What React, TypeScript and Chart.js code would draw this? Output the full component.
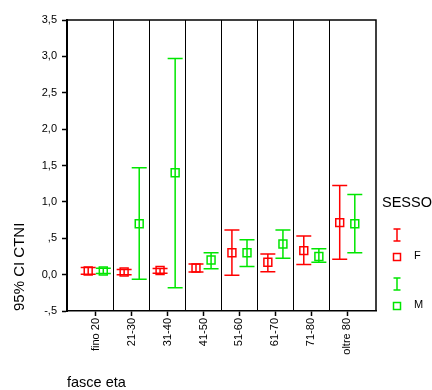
import React, { useEffect, useRef } from "react";
import { Chart, registerables } from "chart.js";

Chart.register(...registerables);

const categories = ["fino 20", "21-30", "31-40", "41-50", "51-60", "61-70", "71-80", "oltre 80"];
const fMean = [0.05, 0.037, 0.056, 0.09, 0.3, 0.17, 0.33, 0.715];
const fLow = [0.005, 0.0, 0.02, 0.037, -0.01, 0.04, 0.14, 0.21];
const fHigh = [0.098, 0.07, 0.084, 0.147, 0.615, 0.285, 0.53, 1.225];
const mMean = [0.05, 0.7, 1.4, 0.2, 0.3, 0.42, 0.25, 0.7];
const mLow = [0.015, -0.063, -0.18, 0.08, 0.11, 0.225, 0.17, 0.3];
const mHigh = [0.088, 1.47, 2.97, 0.3, 0.48, 0.615, 0.355, 1.1];
const yTickValues = [-0.5, 0, 0.5, 1, 1.5, 2, 2.5, 3, 3.5];
const yTickLabels = ["-,5", "0,0", ",5", "1,0", "1,5", "2,0", "2,5", "3,0", "3,5"];
const seriesNames = ["F", "M"];
const seriesColors = ["#ff0000", "#00e600"];
const seriesOffsets = [-0.21, 0.21];

const FONT = "'Liberation Sans', Arial, sans-serif";

const errorBarPlugin = {
  id: "errorBars",
  afterDatasetsDraw(chart: any) {
    const { ctx, scales } = chart;
    const xs = scales.x;
    const ys = scales.y;
    const lows = [fLow, mLow];
    const highs = [fHigh, mHigh];
    ctx.save();
    ctx.lineWidth = 1.5;
    for (let s = 0; s < 2; s++) {
      ctx.strokeStyle = seriesColors[s];
      for (let i = 0; i < categories.length; i++) {
        const x = xs.getPixelForValue(i + seriesOffsets[s]);
        const yl = ys.getPixelForValue(lows[s][i]);
        const yh = ys.getPixelForValue(highs[s][i]);
        const hw = 7.5;
        ctx.beginPath();
        ctx.moveTo(x, yl);
        ctx.lineTo(x, yh);
        ctx.moveTo(x - hw, yl);
        ctx.lineTo(x + hw, yl);
        ctx.moveTo(x - hw, yh);
        ctx.lineTo(x + hw, yh);
        ctx.stroke();
      }
    }
    ctx.restore();
  },
};

const framePlugin = {
  id: "frame",
  afterDraw(chart: any) {
    const { ctx, chartArea } = chart;
    ctx.save();
    ctx.strokeStyle = "#000";
    ctx.lineWidth = 1.5;
    ctx.beginPath();
    ctx.moveTo(chartArea.left, chartArea.top);
    ctx.lineTo(chartArea.right, chartArea.top);
    ctx.lineTo(chartArea.right, chartArea.bottom);
    ctx.stroke();
    ctx.restore();
  },
};

const legendPlugin = {
  id: "sideLegend",
  afterDraw(chart: any) {
    const { ctx, chartArea } = chart;
    const x0 = chartArea.right + 6;
    ctx.save();
    ctx.fillStyle = "#000";
    ctx.textBaseline = "middle";
    ctx.textAlign = "left";
    ctx.font = `14.5px ${FONT}`;
    ctx.fillText("SESSO", x0, 203);
    const symX = x0 + 15;
    for (let s = 0; s < 2; s++) {
      const base = 235 + s * 49;
      ctx.strokeStyle = seriesColors[s];
      ctx.lineWidth = 1.5;
      ctx.beginPath();
      ctx.moveTo(symX, base - 6);
      ctx.lineTo(symX, base + 6);
      ctx.moveTo(symX - 3.5, base - 6);
      ctx.lineTo(symX + 3.5, base - 6);
      ctx.moveTo(symX - 3.5, base + 6);
      ctx.lineTo(symX + 3.5, base + 6);
      ctx.stroke();
      ctx.strokeRect(symX - 3.5, base + 22 - 3.5, 7, 7);
      ctx.fillStyle = "#000";
      ctx.font = `11px ${FONT}`;
      ctx.fillText(seriesNames[s], symX + 17, base + 21);
    }
    ctx.restore();
  },
};

export default function App() {
  const ref = useRef<HTMLCanvasElement>(null);
  useEffect(() => {
    if (!ref.current) return;
    const means = [fMean, mMean];
    const chart = new Chart(ref.current, {
      type: "scatter",
      data: {
        datasets: [0, 1].map((s) => ({
          label: seriesNames[s],
          data: categories.map((_, i) => ({ x: i + seriesOffsets[s], y: means[s][i] })),
          pointStyle: "rect",
          pointRadius: 5.6,
          pointHoverRadius: 5.6,
          borderColor: seriesColors[s],
          backgroundColor: "rgba(0,0,0,0)",
          borderWidth: 1.5,
          showLine: false,
        })),
      },
      options: {
        animation: false,
        responsive: false,
        devicePixelRatio: 1,
        layout: { padding: { top: 20, right: 56, left: 0, bottom: 0 } },
        plugins: { legend: { display: false }, tooltip: { enabled: false } },
        scales: {
          x: {
            type: "linear",
            position: "bottom",
            min: -0.8,
            max: 7.8,
            afterBuildTicks: (scale: any) => {
              scale.ticks = categories.map((_, i) => ({ value: i }));
            },
            afterFit: (scale: any) => {
              scale.height = 79;
            },
            grid: { drawOnChartArea: false, drawTicks: true, tickLength: 5, color: "#000", tickWidth: 1.5 },
            border: { display: true, color: "#000", width: 1.5 },
            ticks: {
              autoSkip: false,
              minRotation: 90,
              maxRotation: 90,
              padding: 2,
              color: "#000",
              font: { family: FONT, size: 11 },
              callback: (v: any) => categories[Math.round(Number(v))] ?? "",
            },
            title: {
              display: true,
              text: "fasce eta",
              align: "start",
              color: "#000",
              font: { family: FONT, size: 14.5, lineHeight: 1 },
              padding: { top: 0, bottom: 0 },
            },
          },
          xsep: {
            type: "linear",
            position: "bottom",
            min: -0.8,
            max: 7.8,
            afterBuildTicks: (scale: any) => {
              scale.ticks = categories.slice(1).map((_, i) => ({ value: i + 0.5 }));
            },
            afterFit: (scale: any) => {
              scale.height = 0;
            },
            grid: { drawOnChartArea: true, drawTicks: false, color: "#000", lineWidth: 1 },
            border: { display: false },
            ticks: { display: false },
          },
          y: {
            type: "linear",
            min: -0.5,
            max: 3.5,
            afterBuildTicks: (scale: any) => {
              scale.ticks = yTickValues.map((v) => ({ value: v }));
            },
            afterFit: (scale: any) => {
              scale.width = 67;
            },
            grid: { drawOnChartArea: false, drawTicks: true, tickLength: 5, color: "#000", tickWidth: 1.5 },
            border: { display: true, color: "#000", width: 2 },
            ticks: {
              padding: 5,
              color: "#000",
              font: { family: FONT, size: 11 },
              callback: (v: any) => {
                const idx = yTickValues.findIndex((t) => Math.abs(t - Number(v)) < 1e-6);
                return idx >= 0 ? yTickLabels[idx] : "";
              },
            },
            title: {
              display: true,
              text: "95% CI CTNI",
              align: "start",
              color: "#000",
              font: { family: FONT, size: 15, lineHeight: 1 },
              padding: { top: 12, bottom: 0 },
            },
          },
        },
      },
      plugins: [errorBarPlugin, framePlugin, legendPlugin],
    } as any);
    return () => chart.destroy();
  }, []);
  return (
    <div style={{ position: "absolute", left: 0, top: 0, width: 432, height: 390, background: "#fff" }}>
      <canvas ref={ref} width={432} height={390} />
    </div>
  );
}
